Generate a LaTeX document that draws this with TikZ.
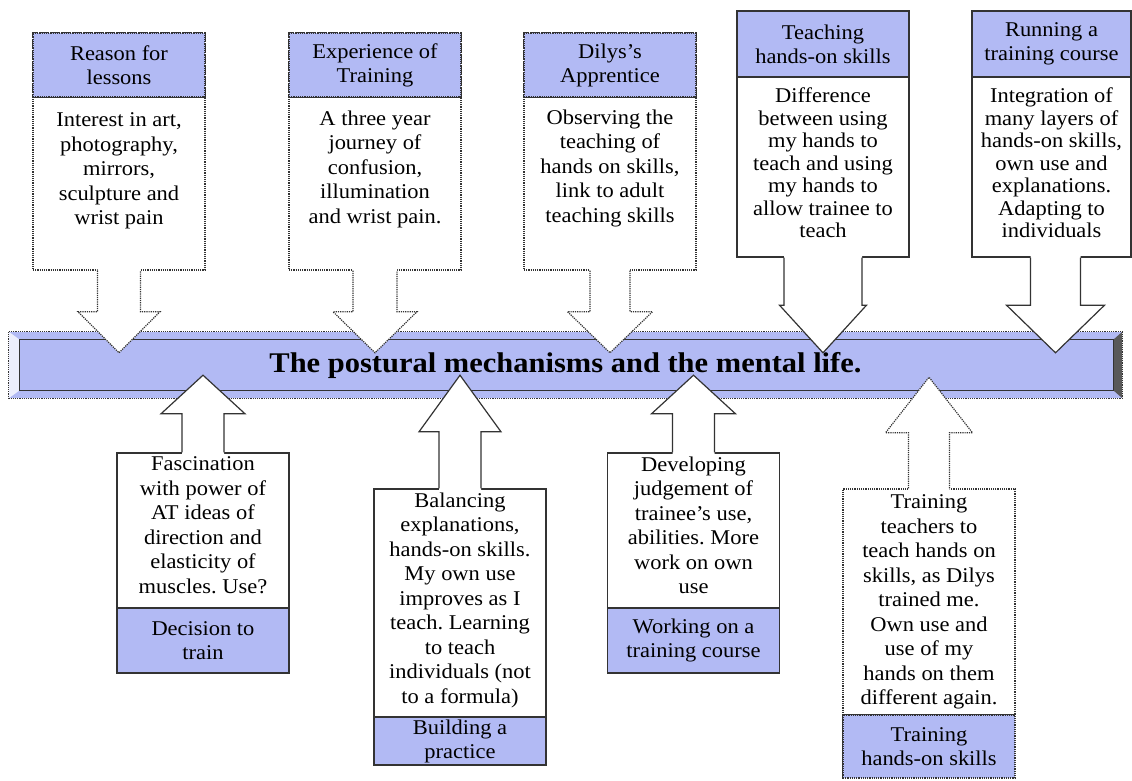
\documentclass[tikz,border=0pt]{standalone}
\usepackage{fontspec}
\setmainfont[FakeStretch=1.07]{Liberation Serif}
\usetikzlibrary{calc,positioning}
\definecolor{bandblue}{RGB}{178,186,244}
\frenchspacing
\tikzset{
	frame/.style={draw=black!80, line width=1.2pt},
	dotframe/.style={frame, densely dotted},
	card/.style={rectangle, fill=white, minimum width=172pt, inner sep=0pt},
	band/.style={rectangle, fill=bandblue, minimum width=172pt, inner sep=0pt, align=center, font=\fontsize{21}{24}\selectfont},
	txt/.style={align=center, inner sep=0pt, font=\fontsize{21}{24.5}\selectfont},
	tighttxt/.style={txt, font=\fontsize{21}{22.5}\selectfont},
	rule/.style={draw=black!80, line width=1.8pt},
	banner/.style={rectangle, fill=bandblue, minimum width=1113pt, minimum height=66pt, inner sep=0pt, font=\fontsize{28.5}{32}\bfseries\selectfont}
}
% #1 base, #2 tip, #3 half stem, #4 half head, #5 line style
\newcommand{\callarrow}[5]{%
	\coordinate (cmid) at ($(#1)!0.5!(#2)$);
	\fill[white] ($(#1)!-2pt!(#2)+(-#3,0)$) -- ($(cmid)+(-#3,0)$) -- ($(cmid)+(-#4,0)$) -- (#2) -- ($(cmid)+(#4,0)$) -- ($(cmid)+(#3,0)$) -- ($(#1)!-2pt!(#2)+(#3,0)$) -- cycle;
	\draw[#5] ($(#1)+(-#3,0)$) -- ($(cmid)+(-#3,0)$) -- ($(cmid)+(-#4,0)$) -- (#2) -- ($(cmid)+(#4,0)$) -- ($(cmid)+(#3,0)$) -- ($(#1)+(#3,0)$);
}

\begin{document}
\begin{tikzpicture}[x=1pt, y=-1pt]
\useasboundingbox (0,0) rectangle (1132,781);

% banner
\node[banner] (banner) at (565.5,365) {The postural mechanisms and the mental life.};
\fill[white!75!bandblue] (banner.north west) -- ($(banner.north west)+(11,8)$) -- ($(banner.south west)+(11,-8)$) -- (banner.south west) -- cycle;
\fill[black!65] (banner.north east) -- ($(banner.north east)+(-9,8)$) -- ($(banner.south east)+(-9,-8)$) -- (banner.south east) -- cycle;
\draw[frame] ($(banner.north west)+(11,8)$) rectangle ($(banner.south east)+(-9,-8)$);
\draw[dotframe] (banner.north west) rectangle (banner.south east);

% top row
\node[card, dotframe, minimum height=237pt] (reason) at (119,151.5) {};
\node[band, dotframe, minimum height=64pt, anchor=north] (reasonhd) at (reason.north) {Reason for\\lessons};
\draw[rule] (reasonhd.south west) -- (reasonhd.south east);
\node[txt, below=15pt of reasonhd] (reasontx) {Interest in art,\\photography,\\mirrors,\\sculpture and\\wrist pain};
\coordinate (reasontip) at ($(banner.north -| reason.south)+(0,21)$);
\callarrow{reason.south}{reasontip}{21.5}{41}{dotframe}

\node[card, dotframe, minimum height=237pt] (experience) at (375,151.5) {};
\node[band, dotframe, minimum height=64pt, anchor=north] (experiencehd) at (experience.north) {Experience of\\Training};
\draw[rule] (experiencehd.south west) -- (experiencehd.south east);
\node[txt, below=13pt of experiencehd] (experiencetx) {A three year\\journey of\\confusion,\\illumination\\and wrist pain.};
\coordinate (experiencetip) at ($(banner.north -| experience.south)+(0,21)$);
\callarrow{experience.south}{experiencetip}{22}{42}{dotframe}

\node[card, dotframe, minimum height=237pt] (apprentice) at (610,151.5) {};
\node[band, dotframe, minimum height=64pt, anchor=north] (apprenticehd) at (apprentice.north) {Dilys’s\\Apprentice};
\draw[rule] (apprenticehd.south west) -- (apprenticehd.south east);
\node[txt, below=12pt of apprenticehd] (apprenticetx) {Observing the\\teaching of\\hands on skills,\\link to adult\\teaching skills};
\coordinate (apprenticetip) at ($(banner.north -| apprentice.south)+(0,21)$);
\callarrow{apprentice.south}{apprenticetip}{20}{42.5}{dotframe}

\node[card, frame, minimum height=246pt] (teaching) at (823,134) {};
\node[band, frame, minimum height=66pt, anchor=north] (teachinghd) at (teaching.north) {Teaching\\hands-on skills};
\draw[rule] (teachinghd.south west) -- (teachinghd.south east);
\node[tighttxt, below=10pt of teachinghd] (teachingtx) {Difference\\between using\\my hands to\\teach and using\\my hands to\\allow trainee to\\teach};
\coordinate (teachingtip) at ($(banner.north -| teaching.south)+(0,21)$);
\callarrow{teaching.south}{teachingtip}{39}{43.5}{frame}

\node[card, frame, minimum width=159pt, minimum height=246pt] (running) at (1051.5,134) {};
\node[band, frame, minimum width=159pt, minimum height=66pt, anchor=north] (runninghd) at (running.north) {Running a\\training course};
\draw[rule] (runninghd.south west) -- (runninghd.south east);
\node[tighttxt, below=10pt of runninghd] (runningtx) {Integration of\\many layers of\\hands-on skills,\\own use and\\explanations.\\Adapting to\\individuals};
\coordinate (runningbase) at ($(running.south)+(4,0)$);
\coordinate (runningtip) at ($(banner.north -| runningbase)+(0,21)$);
\callarrow{runningbase}{runningtip}{25}{49}{frame}

% bottom row
\node[card, frame, minimum height=220pt] (decide) at (203,563) {};
\node[band, frame, minimum height=65pt, anchor=south] (decidehd) at (decide.south) {Decision to\\train};
\draw[rule] (decidehd.north west) -- (decidehd.north east);
\node[txt, below=4pt of decide.north] (decidetx) {Fascination\\with power of\\AT ideas of\\direction and\\elasticity of\\muscles. Use?};
\coordinate (decidetip) at ($(banner.south -| decide.north)+(0,-23)$);
\callarrow{decide.north}{decidetip}{21}{42}{frame}

\node[card, frame, minimum height=276pt] (practice) at (460,627) {};
\node[band, frame, minimum height=48pt, anchor=south] (practicehd) at (practice.south) {Building a\\practice};
\draw[rule] (practicehd.north west) -- (practicehd.north east);
\node[txt, below=4pt of practice.north] (practicetx) {Balancing\\explanations,\\hands-on skills.\\My own use\\improves as I\\teach. Learning\\to teach\\individuals (not\\to a formula)};
\coordinate (practicetip) at ($(banner.south -| practice.north)+(0,-23)$);
\callarrow{practice.north}{practicetip}{21}{41}{frame}

\node[card, frame, minimum height=220pt] (course) at (693.5,563) {};
\node[band, frame, minimum height=65pt, anchor=south] (coursehd) at (course.south) {Working on a\\training course};
\draw[rule] (coursehd.north west) -- (coursehd.north east);
\node[txt, below=4pt of course.north] (coursetx) {Developing\\judgement of\\trainee’s use,\\abilities. More\\work on own\\use};
\coordinate (coursetip) at ($(banner.south -| course.north)+(0,-23)$);
\callarrow{course.north}{coursetip}{21}{42}{frame}

\node[card, dotframe, minimum height=289pt] (trainers) at (929,633.5) {};
\node[band, dotframe, minimum height=63pt, anchor=south] (trainershd) at (trainers.south) {Training\\hands-on skills};
\draw[rule] (trainershd.north west) -- (trainershd.north east);
\node[txt, below=6pt of trainers.north] (trainerstx) {Training\\teachers to\\teach hands on\\skills, as Dilys\\trained me.\\Own use and\\use of my\\hands on them\\different again.};
\coordinate (trainerstip) at ($(banner.south -| trainers.north)+(0,-21)$);
\callarrow{trainers.north}{trainerstip}{20.5}{43.5}{dotframe}
\end{tikzpicture}
\end{document}
